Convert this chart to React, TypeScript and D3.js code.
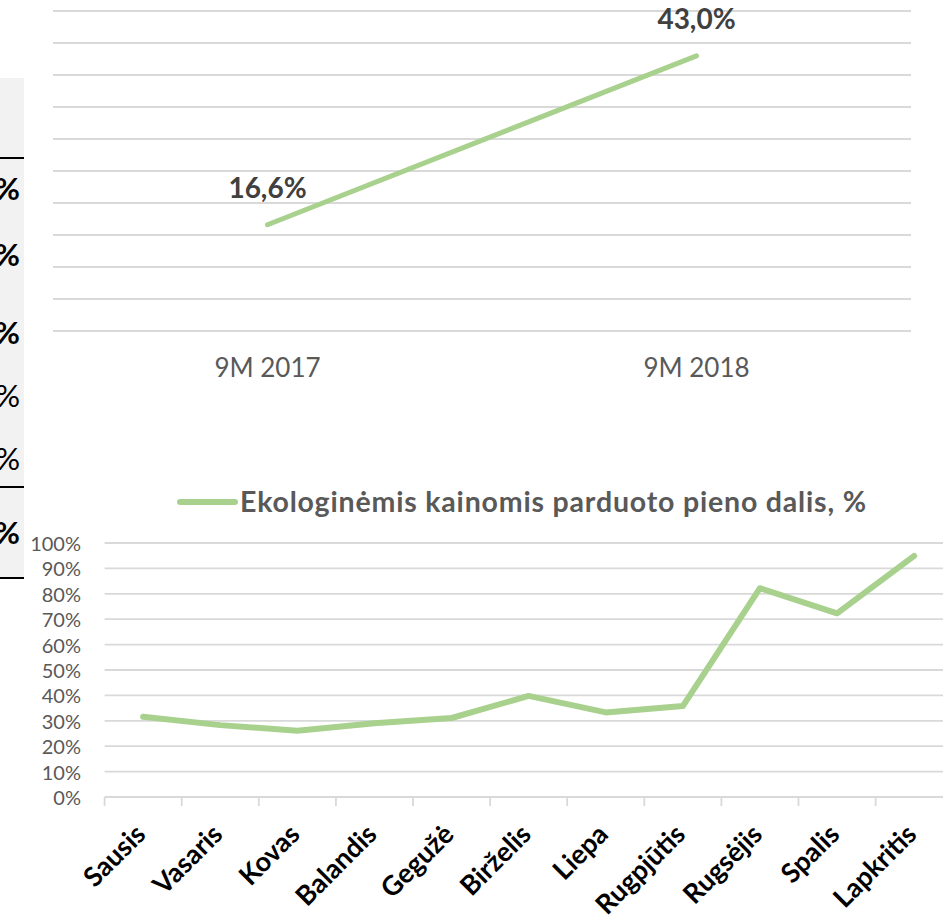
import React from "react"
import * as d3 from "d3"

// top chart: 9 month comparison
const periods = ["9M 2017", "9M 2018"]
const periodValues = [16.6, 43.0]
const topTicks = d3.range(0, 55, 5)

// bottom chart: monthly share
const months = [
  "Sausis",
  "Vasaris",
  "Kovas",
  "Balandis",
  "Gegužė",
  "Birželis",
  "Liepa",
  "Rugpjūtis",
  "Rugsėjis",
  "Spalis",
  "Lapkritis",
]
const monthShares = [0.316, 0.283, 0.261, 0.29, 0.311, 0.398, 0.333, 0.358, 0.822, 0.723, 0.949]
const legendLabel = "Ekologinėmis kainomis parduoto pieno dalis, %"
const bottomTicks = d3.range(0, 1.01, 0.1)

// cropped table fragment on the left edge
const fragmentWeights = ["bold", "bold", "bold", "normal", "normal", "bold"]
const fragmentRows = [188, 254, 332, 395, 458, 532]

const GREEN = "#a9d18e"
const GRID = "#d9d9d9"
const FONT = "Lato, 'Open Sans', sans-serif"

export default function App() {
  const W = 943
  const H = 922

  const xTop = d3.scaleBand().domain(periods).range([53, 911])
  const yTop = d3.scaleLinear().domain([0, 50]).range([331, 11])
  const topLine = d3
    .line<number>()
    .x((_, i) => xTop(periods[i])! + xTop.bandwidth() / 2)
    .y((d) => yTop(d))

  const xBot = d3.scaleBand().domain(months).range([104.6, 952.7])
  const yBot = d3.scaleLinear().domain([0, 1]).range([797, 543])
  const botLine = d3
    .line<number>()
    .x((_, i) => xBot(months[i])! + xBot.bandwidth() / 2)
    .y((d) => yBot(d))
  const pct = d3.format(".0%")
  const comma = (v: number) => v.toFixed(1).replace(".", ",") + "%"

  return (
    <svg
      width={W}
      height={H}
      style={{ position: "absolute", left: 0, top: 0, background: "#fff" }}
      fontFamily={FONT}
    >
      {/* left table fragment, cropped at the page edge */}
      <rect x={0} y={78} width={24} height={500} fill="#f2f2f2" />
      {[158, 487, 578].map((y) => (
        <line key={y} x1={0} x2={24} y1={y} y2={y} stroke="#000" strokeWidth={2} />
      ))}
      {fragmentRows.map((y, i) => (
        <text
          key={i}
          x={20}
          y={y}
          textAnchor="end"
          dominantBaseline="central"
          fontSize={31}
          fontWeight={fragmentWeights[i]}
          fill="#000"
        >
          %
        </text>
      ))}

      {/* top chart */}
      <g>
        {topTicks.map((t) => (
          <line key={t} x1={53} x2={911} y1={yTop(t)} y2={yTop(t)} stroke={GRID} strokeWidth={1.8} />
        ))}
        <path d={topLine(periodValues) ?? ""} fill="none" stroke={GREEN} strokeWidth={5} strokeLinecap="round" />
        {periodValues.map((v, i) => (
          <text
            key={i}
            x={xTop(periods[i])! + xTop.bandwidth() / 2}
            y={yTop(v) - 27}
            textAnchor="middle"
            fontSize={28}
            fontWeight="bold"
            fill="#404040"
          >
            {comma(v)}
          </text>
        ))}
        {periods.map((p) => (
          <text
            key={p}
            x={xTop(p)! + xTop.bandwidth() / 2}
            y={377}
            textAnchor="middle"
            fontSize={26}
            fill="#595959"
          >
            {p}
          </text>
        ))}
      </g>

      {/* bottom chart */}
      <g>
        <line x1={180} x2={235} y1={502} y2={502} stroke={GREEN} strokeWidth={6} strokeLinecap="round" />
        <text
          x={240}
          y={512}
          fontSize={28.5}
          fontWeight="bold"
          fill="#595959"
          textLength={626}
          lengthAdjust="spacing"
        >
          {legendLabel}
        </text>
        {bottomTicks.map((t) => (
          <g key={t}>
            <line x1={104.6} x2={W} y1={yBot(t)} y2={yBot(t)} stroke={GRID} strokeWidth={1.8} />
            <text x={81} y={yBot(t)} textAnchor="end" dominantBaseline="central" fontSize={20} fill="#595959">
              {pct(t)}
            </text>
          </g>
        ))}
        {months.map((m) => (
          <line
            key={m}
            x1={xBot(m)!}
            x2={xBot(m)!}
            y1={797}
            y2={806}
            stroke={GRID}
            strokeWidth={1.8}
          />
        ))}
        <path
          d={botLine(monthShares) ?? ""}
          fill="none"
          stroke={GREEN}
          strokeWidth={6}
          strokeLinecap="round"
          strokeLinejoin="round"
        />
        {months.map((m) => (
          <text
            key={m}
            transform={`translate(${xBot(m)! + xBot.bandwidth() / 2 + 4},${836}) rotate(-45)`}
            textAnchor="end"
            fontSize={27}
            fontWeight="bold"
            fill="#000"
          >
            {m}
          </text>
        ))}
      </g>
    </svg>
  )
}
